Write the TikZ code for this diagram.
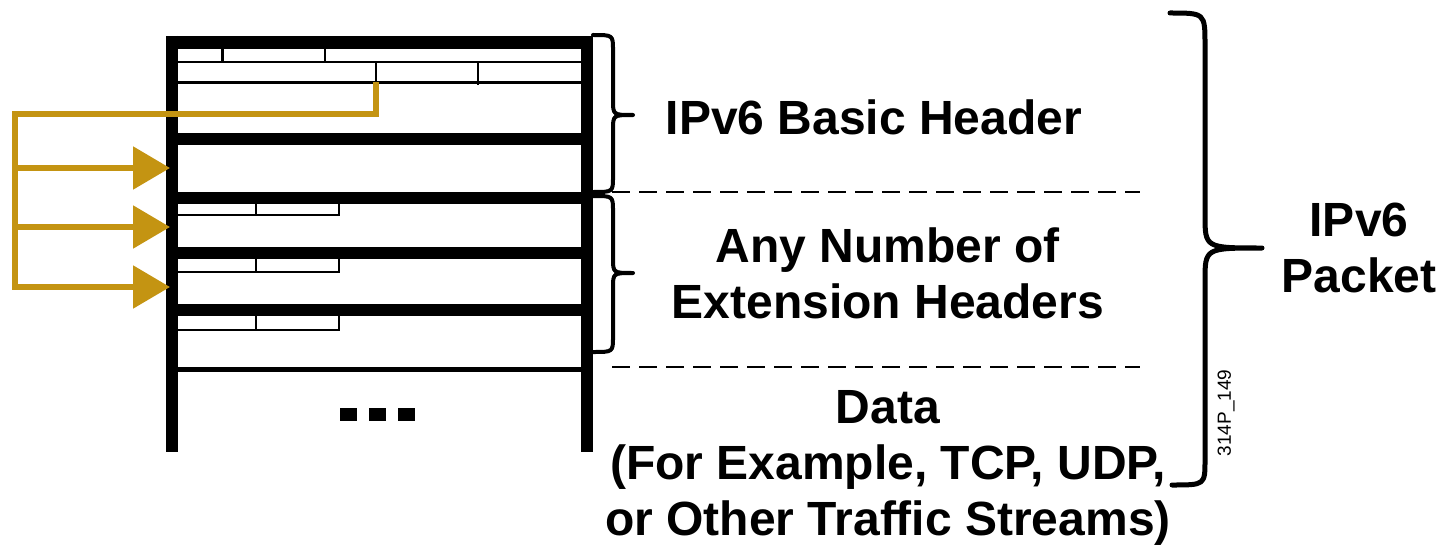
\documentclass[tikz,border=0pt]{standalone}
\usepackage{fontspec}
\setmainfont{Liberation Sans}
\usetikzlibrary{arrows.meta}
\definecolor{gold}{RGB}{196,148,18}
\begin{document}
\begin{tikzpicture}[x=1pt,y=-1pt,
  bar/.style={line width=12pt},
  thinline/.style={line width=2.5pt},
  goldline/.style={draw=gold,line width=5.5pt},
  goldtip/.style={-{Triangle[length=37pt,width=42pt]}},
  bracestyle/.style={line width=4pt,line cap=round,line join=round},
  bigbrace/.style={line width=5pt,line cap=round,line join=round},
  sep/.style={line width=2.5pt,dash pattern=on 18pt off 9pt},
  lbl/.style={font=\bfseries\fontsize{48}{56}\selectfont,align=center,inner sep=0pt},
  code/.style={font=\fontsize{19}{19}\selectfont,inner sep=0pt,rotate=90}]
\useasboundingbox (0,0) rectangle (1441,551);
% frame
\draw[bar] (172,36) -- (172,452);
\draw[bar] (587,36) -- (587,452);
\draw[line width=13pt] (166,42.5) -- (593,42.5);
\foreach \y in {139,197.5,252.5,310}
  \draw[bar] (166,\y) -- (593,\y);
% basic header fields
\draw[thinline] (178,62) -- (581,62);
\draw[thinline] (178,82.5) -- (581,82.5);
\draw[thinline] (222.7,49) -- (222.7,62);
\draw[thinline] (325,49) -- (325,62);
\draw[thinline] (376,62) -- (376,82.5);
\draw[thinline] (478,62) -- (478,85);
% extension header fields
\foreach \t/\b in {203.5/215,258.5/272,316/330}{
  \draw[thinline] (178,\b) -- (339,\b) -- (339,\t);
  \draw[thinline] (256,\t) -- (256,\b);
}
\draw[line width=5.5pt] (178,369.5) -- (581,369.5);
\fill (340,408) rectangle (357,421);
\fill (369,408) rectangle (386,421);
\fill (398,408) rectangle (415,421);
% gold arrows
\coordinate (src) at (376,82.5);
\coordinate (bustop) at (15,114);
\coordinate (b1) at (15,168);
\coordinate (b2) at (15,227);
\coordinate (b3) at (15,287);
\coordinate (t1) at (170,168);
\coordinate (t2) at (170,227);
\coordinate (t3) at (170,287);
\draw[goldline,goldtip] (src) |- (bustop) -- (b3) -- (t3);
\draw[goldline,goldtip] (b1) -- (t1);
\draw[goldline,goldtip] (b2) -- (t2);
% braces
\draw[bracestyle] (593,35) .. controls (613,35) .. (613,50) -- (613,100)
  .. controls (613,115) .. (633,115) .. controls (613,115) .. (613,130)
  -- (613,177) .. controls (613,192) .. (593,192);
\draw[bracestyle] (593,196) .. controls (613,196) .. (613,211) -- (613,258)
  .. controls (613,273) .. (633,273) .. controls (613,273) .. (613,288)
  -- (613,337) .. controls (613,352) .. (593,352);
\draw[bigbrace] (1170,13) .. controls (1205,13) .. (1205,45) -- (1205,215)
  .. controls (1205,248) .. (1262,248) .. controls (1205,248) .. (1205,281)
  -- (1205,460) .. controls (1205,485) .. (1172,485);
% separators
\draw[sep] (612,192) -- (1140,192);
\draw[sep] (612,367) -- (1140,367);
% labels
\node[lbl] (basic) at (874,117) {IPv6 Basic Header};
\node[lbl] (ext) at (888,273.5) {Any Number of\\Extension Headers};
\node[lbl] (data) at (888,468) {Data\\(For Example, TCP, UDP,\\or Other Traffic Streams)};
\node[lbl] (packet) at (1359,248) {IPv6\\Packet};
\node[code] (fig) at (1226,413) {314P\_149};
\end{tikzpicture}
\end{document}
